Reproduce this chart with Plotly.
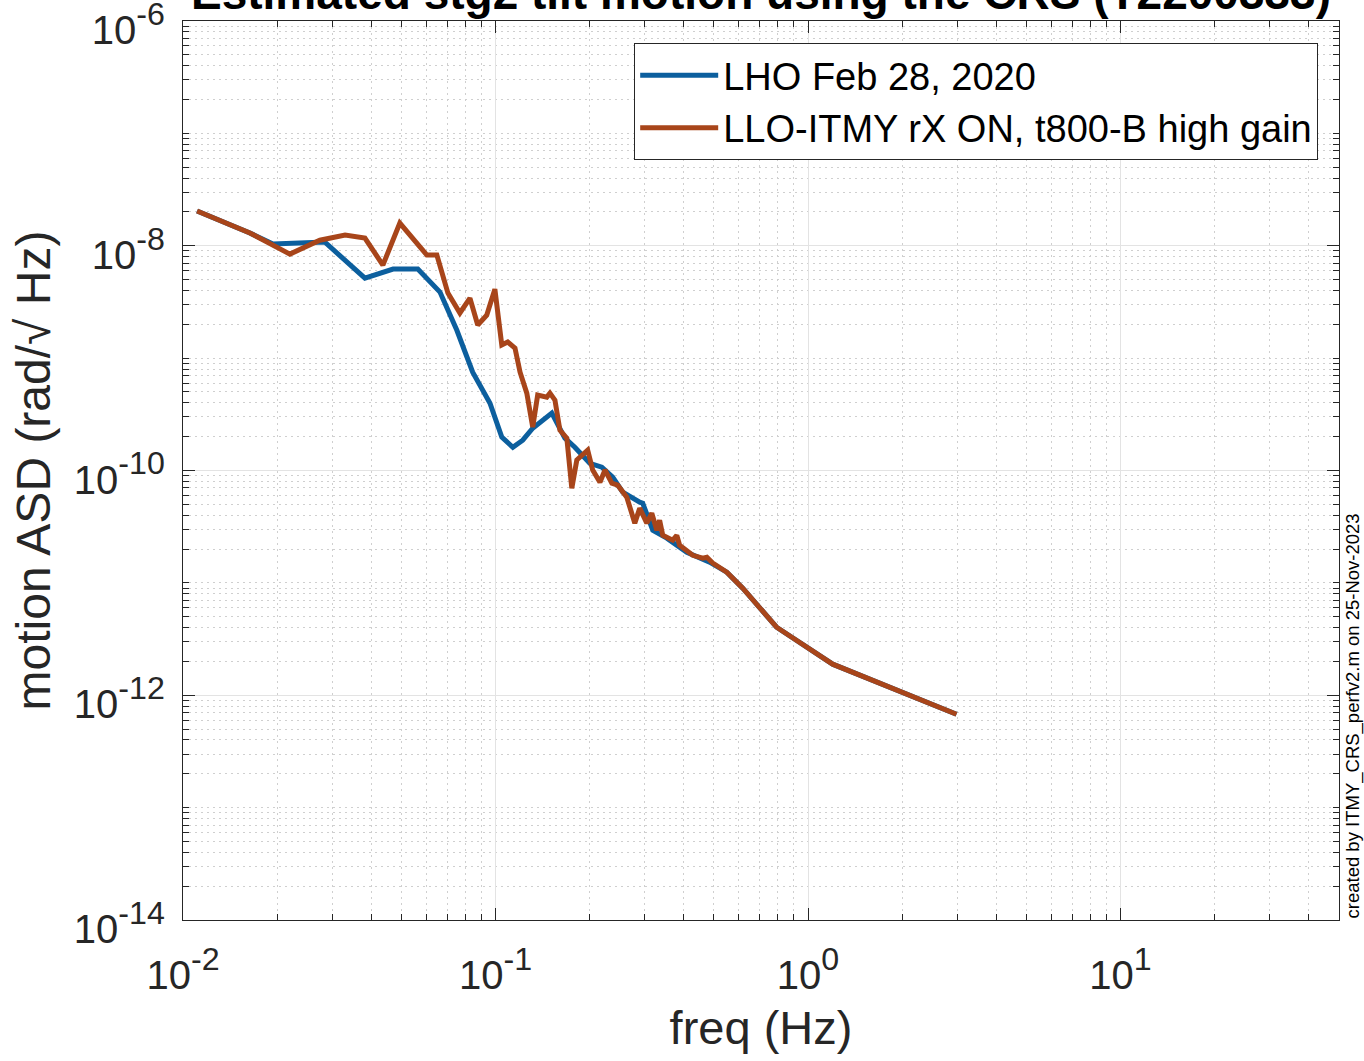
import numpy as np
import plotly.graph_objects as go

# ---------------- data ----------------
lho_freq = [0.01109, 0.01637, 0.0194, 0.0284, 0.0382, 0.0470, 0.0564, 0.0664,
            0.0752, 0.0845, 0.0960, 0.1047, 0.1136, 0.1222, 0.1315, 0.1514,
            0.1667, 0.1794, 0.2003, 0.2188, 0.2371, 0.2553, 0.2893, 0.2958,
            0.3185, 0.3532, 0.4093, 0.4842, 0.5495, 0.618, 0.793, 1.199, 2.985]
lho_asd = [2.04e-8, 1.30e-8, 1.035e-8, 1.08e-8, 5.15e-9, 6.20e-9, 6.20e-9, 3.87e-9,
           1.77e-9, 7.50e-10, 3.97e-10, 1.98e-10, 1.61e-10, 1.86e-10, 2.38e-10, 3.24e-10,
           1.94e-10, 1.61e-10, 1.16e-10, 1.07e-10, 8.72e-11, 6.41e-11, 5.22e-11, 5.12e-11,
           2.94e-11, 2.50e-11, 1.87e-11, 1.53e-11, 1.245e-11, 8.96e-12, 4.03e-12, 1.89e-12, 6.77e-13]

llo_freq = [0.01109, 0.01637, 0.02198, 0.0274, 0.0330, 0.0382, 0.0436, 0.0494,
            0.0603, 0.0649, 0.0704, 0.0769, 0.0828, 0.0877, 0.0937, 0.0995,
            0.1047, 0.1094, 0.1154, 0.1198, 0.1259, 0.1315, 0.1364, 0.1459,
            0.1493, 0.1549, 0.1607, 0.1691, 0.1754, 0.1820, 0.1972, 0.2046,
            0.2158, 0.2240, 0.2356, 0.2460, 0.2630, 0.2790, 0.2893, 0.3048,
            0.3162, 0.3281, 0.3350, 0.3428, 0.3690, 0.3802, 0.3882, 0.4276,
            0.4603, 0.4745, 0.4955, 0.5495, 0.618, 0.793, 1.199, 2.985]
llo_asd = [2.04e-8, 1.30e-8, 8.43e-9, 1.12e-8, 1.245e-8, 1.17e-8, 6.73e-9, 1.59e-8,
           8.26e-9, 8.26e-9, 3.79e-9, 2.52e-9, 3.42e-9, 1.97e-9, 2.41e-9, 4.11e-9,
           1.31e-9, 1.39e-9, 1.23e-9, 7.50e-10, 4.88e-10, 2.43e-10, 4.69e-10, 4.50e-10,
           4.88e-10, 4.23e-10, 2.29e-10, 1.94e-10, 6.96e-11, 1.24e-10, 1.52e-10, 1.01e-10,
           7.87e-11, 1.01e-10, 7.71e-11, 7.40e-11, 5.79e-11, 3.40e-11, 4.62e-11, 3.40e-11,
           4.17e-11, 2.94e-11, 3.61e-11, 2.65e-11, 2.40e-11, 2.65e-11, 2.16e-11, 1.76e-11,
           1.66e-11, 1.69e-11, 1.50e-11, 1.245e-11, 8.96e-12, 4.03e-12, 1.89e-12, 6.77e-13]

series_names = ["LHO Feb 28, 2020", "LLO-ITMY rX ON, t800-B high gain"]
x_tick_vals = [0.01, 0.1, 1, 10]
x_tick_exp = ["-2", "-1", "0", "1"]
y_tick_vals = [1e-14, 1e-12, 1e-10, 1e-8, 1e-6]
y_tick_exp = ["-14", "-12", "-10", "-8", "-6"]
title_text = "Estimated stg2 tilt motion using the CRS (T2200333)"
x_label = "freq (Hz)"
y_label = "motion ASD (rad/\u221a Hz)"
stamp_text = "created by ITMY_CRS_perfv2.m on 25-Nov-2023"

# ---------------- style ----------------
FONT = "Liberation Sans, Arial, Helvetica, sans-serif"
AX = "#262626"
BLUE = "#0c5f9e"
RED = "#a8451a"


def pow_label(e):
    return "<span style='font-size:40px'>10</span><sup>" + e + "</sup>"


x_minor = [m * 10.0 ** e for e in range(-2, 2) for m in range(2, 10) if m * 10.0 ** e <= 50]
y_minor = [m * 10.0 ** e for e in range(-14, -6) for m in range(1, 10)
           if not (m == 1 and e % 2 == 0)]

fig = go.Figure()
fig.add_trace(go.Scatter(x=lho_freq, y=lho_asd, mode="lines", name=series_names[0],
                         line=dict(color=BLUE, width=5)))
fig.add_trace(go.Scatter(x=llo_freq, y=llo_asd, mode="lines", name=series_names[1],
                         line=dict(color=RED, width=5)))

common = dict(
    type="log", showline=True, linecolor=AX, linewidth=1, mirror="ticks",
    ticks="inside", ticklen=12, tickcolor=AX, tickwidth=1,
    showgrid=True, gridcolor="#e3e3e3", gridwidth=1,
    zeroline=False, tickmode="array", ticklabeloverflow="allow",
    tickfont=dict(family=FONT, size=46, color=AX),
)

fig.update_xaxes(
    **common, range=[-2.0001, np.log10(50)], tickvals=x_tick_vals,
    ticktext=[pow_label(e) for e in x_tick_exp], ticklabelstandoff=13,
    title=dict(text=x_label, font=dict(family=FONT, size=47, color=AX), standoff=14),
    minor=dict(tickmode="array", tickvals=x_minor, ticks="inside", ticklen=6,
               tickcolor=AX, showgrid=True, gridcolor="#cfcfcf", griddash="2px,4px",
               gridwidth=1),
)
fig.update_yaxes(
    **common, range=[-14.0001, -5.9999], tickvals=y_tick_vals,
    ticktext=[pow_label(e) for e in y_tick_exp], ticklabelstandoff=8, ticklabelshift=7,
    title=dict(text=y_label, font=dict(family=FONT, size=48, color=AX), standoff=7),
    minor=dict(tickmode="array", tickvals=y_minor, ticks="inside", ticklen=6,
               tickcolor=AX, showgrid=True, gridcolor="#cfcfcf", griddash="2px,4px",
               gridwidth=1),
)

fig.update_layout(
    width=1364, height=1061,
    margin=dict(l=183, r=25, t=21, b=141, autoexpand=False),
    plot_bgcolor="white", paper_bgcolor="white",
    font=dict(family=FONT, color=AX),
    showlegend=True,
    legend=dict(x=0.982, xanchor="right", y=0.9755, yanchor="top",
                bgcolor="white", bordercolor=AX, borderwidth=1,
                font=dict(family=FONT, size=38, color="black"),
                itemwidth=78, tracegroupgap=0),
    annotations=[
        dict(text="<b>" + title_text + "</b>", xref="paper", yref="paper",
             x=0.5, y=1, xanchor="center", yanchor="bottom", yshift=0,
             showarrow=False, font=dict(family=FONT, size=46, color="black")),
        dict(text=stamp_text, xref="paper", yref="paper", x=1.0121, y=0,
             xanchor="center", yanchor="bottom", textangle=-90, showarrow=False,
             font=dict(family=FONT, size=18.5, color="black")),
    ],
)

fig.write_html("out.html", config={"displayModeBar": False},
               post_script="document.body.style.margin='0';document.body.style.overflow='hidden';")
